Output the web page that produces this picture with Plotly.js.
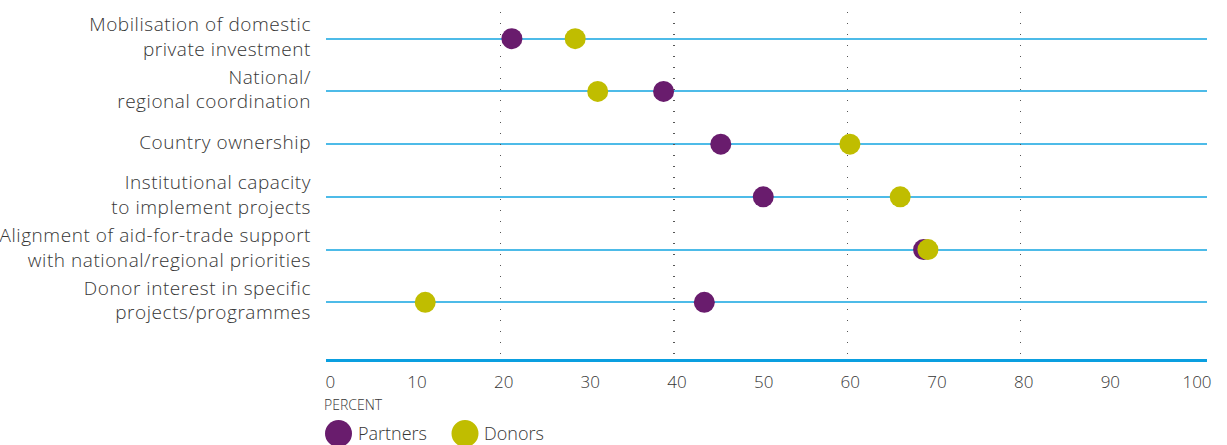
<!DOCTYPE html>
<html>
<head>
<meta charset="utf-8">
<script src="https://cdn.plot.ly/plotly-3.0.1.min.js"></script>
<style>
html,body{margin:0;padding:0;background:#fff;}
#chart{width:1227px;height:445px;}
#chart .ytick text{letter-spacing:0.55px;}
</style>
</head>
<body>
<div id="chart"></div>
<script>
// Data
var categories = [
  "Mobilisation of domestic<br>private investment",
  "National/<br>regional coordination",
  "Country ownership",
  "Institutional capacity<br>to implement projects",
  "Alignment of aid-for-trade support<br>with national/regional priorities",
  "Donor interest in specific<br>projects/programmes"
];
var partners = [21.3, 38.8, 45.4, 50.3, 68.8, 43.5];
var donors = [28.6, 31.2, 60.3, 66.1, 69.3, 11.3];
var xTickVals = [0, 10, 20, 30, 40, 50, 60, 70, 80, 90, 100];
var gridVals = [20, 40, 60, 80];
var seriesNames = ["Partners", "Donors"];
var seriesColors = ["#691c6d", "#c0bd00"];

var FONT = "'Open Sans', 'Segoe UI', sans-serif";
var TXT = "#363636";

var traces = [
  {type: "scatter", mode: "markers", name: seriesNames[0], x: partners, y: categories,
   marker: {size: 21, color: seriesColors[0], line: {width: 0}}, hoverinfo: "skip", showlegend: false},
  {type: "scatter", mode: "markers", name: seriesNames[1], x: donors, y: categories,
   marker: {size: 21, color: seriesColors[1], line: {width: 0}}, hoverinfo: "skip", showlegend: false},
  // helper trace to attach the dotted grid axis
  {type: "scatter", mode: "markers", x: [], y: [], xaxis: "x2", yaxis: "y", showlegend: false, hoverinfo: "skip"}
];

var plotL = 326, plotR = 1207, plotT = 12, plotB = 359;
var pw = plotR - plotL, ph = plotB - plotT;
function px(x) { return (x - plotL) / pw; }
function py(y) { return (plotB - y) / ph; }

var layout = {
  width: 1227, height: 445,
  margin: {l: plotL, r: 1227 - plotR, t: plotT, b: 445 - plotB, pad: 0},
  paper_bgcolor: "#fff", plot_bgcolor: "#fff",
  font: {family: FONT, color: TXT, size: 17, weight: 300},
  showlegend: false,
  xaxis: {
    range: [-0.15, 101.5], tickvals: xTickVals, ticks: "", showgrid: false, zeroline: false,
    showline: true, linecolor: "#0a9fe0", linewidth: 3,
    tickfont: {size: 17, color: TXT, family: FONT, weight: 300}, ticklabelshift: 3, ticklabelstandoff: 6,
    fixedrange: true
  },
  xaxis2: {
    overlaying: "x", matches: "x", range: [-0.15, 101.5], tickvals: gridVals, showticklabels: false,
    ticks: "", showgrid: true, gridcolor: "#555", gridwidth: 1.4, griddash: "1.4px,9.6px",
    zeroline: false, showline: false, fixedrange: true
  },
  yaxis: {
    type: "category", categoryorder: "array", categoryarray: categories,
    range: [6.075, -0.506], ticks: "", showgrid: true, gridcolor: "#4dbbe8", gridwidth: 2,
    zeroline: false, showline: false, ticklabelstandoff: 14, ticklabelshift: 2,
    tickfont: {size: 19, color: TXT, family: FONT, weight: 300}, fixedrange: true
  },
  shapes: [
    {type: "circle", xref: "paper", yref: "paper", xsizemode: "pixel", ysizemode: "pixel",
     xanchor: px(338.5), yanchor: py(433.5), x0: -13.5, x1: 13.5, y0: -13.5, y1: 13.5,
     fillcolor: seriesColors[0], line: {width: 0}},
    {type: "circle", xref: "paper", yref: "paper", xsizemode: "pixel", ysizemode: "pixel",
     xanchor: px(465), yanchor: py(433.5), x0: -13.5, x1: 13.5, y0: -13.5, y1: 13.5,
     fillcolor: seriesColors[1], line: {width: 0}}
  ],
  annotations: [
    {text: "PERCENT", xref: "paper", yref: "paper", x: px(322), y: py(404), xanchor: "left", yanchor: "middle",
     showarrow: false, font: {size: 14, color: TXT, family: FONT, weight: 300}},
    {text: seriesNames[0], xref: "paper", yref: "paper", x: px(356), y: py(432.5), xanchor: "left", yanchor: "middle",
     showarrow: false, font: {size: 18, color: TXT, family: FONT, weight: 300}},
    {text: seriesNames[1], xref: "paper", yref: "paper", x: px(482), y: py(432.5), xanchor: "left", yanchor: "middle",
     showarrow: false, font: {size: 18, color: TXT, family: FONT, weight: 300}}
  ]
};

Plotly.newPlot("chart", traces, layout, {staticPlot: true, displayModeBar: false});
</script>
</body>
</html>
